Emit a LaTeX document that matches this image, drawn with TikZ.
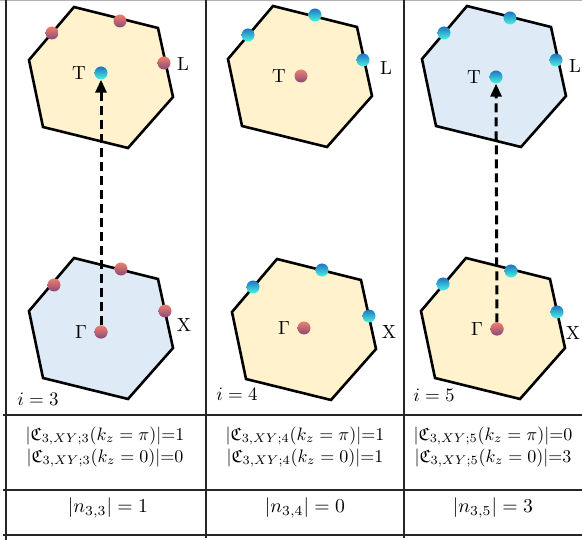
\documentclass[tikz,border=0pt]{standalone}
\usepackage{amsmath,amssymb}
\usetikzlibrary{arrows.meta}
\usetikzlibrary{positioning}

\definecolor{zoneA}{HTML}{FFF2CC}
\definecolor{zoneB}{HTML}{DEEBF7}
\definecolor{ballred}{HTML}{F07E6E}
\definecolor{ballplum}{HTML}{8A4A78}
\definecolor{ballblue}{HTML}{1F74C4}
\definecolor{ballcyan}{HTML}{48F4E2}

\begin{document}
\begin{tikzpicture}[x=1pt, y=-1pt,
    hexa/.style={line width=2.6pt, line join=miter},
    rball/.style={circle, minimum size=13pt, inner sep=0pt, top color=ballred, bottom color=ballplum},
    cball/.style={circle, minimum size=13pt, inner sep=0pt, top color=ballblue, bottom color=ballcyan},
    lbl/.style={inner sep=0pt, scale=1.9},
    cell/.style={align=center, inner sep=0pt, scale=1.8, font=\fontsize{10}{12.2}\selectfont},
    count/.style={inner sep=0pt, scale=1.97},
    jump/.style={line width=3pt, dash pattern=on 9pt off 5pt, -{Triangle[length=13pt,width=11pt]}},
    grid/.style={line width=1.2pt, draw=black!85}]
    \useasboundingbox (0,0) rectangle (582,540);

    % table
    \draw[black!30, line width=1pt] (0,0.5) -- (582,0.5);
    \draw[grid] (6,0) -- (6,540);
    \draw[grid] (206,0) -- (206,538);
    \draw[grid] (404,0) -- (404,538);
    \foreach \yy in {415,490,535}
        \draw[grid] (3,\yy) -- (582,\yy);

    % Brillouin zones
    \foreach \dx/\dy/\col in {0/0/zoneA, 199/-1/zoneA, 393/-1/zoneB,
                              0/251/zoneB, 203/252/zoneA, 392/251/zoneA}
        \draw[hexa, fill=\col, shift={(\dx,\dy)}]
            (74,7) -- (158,28) -- (173,97) -- (128,148) -- (43,127) -- (29,60) -- cycle;

    % centre points
    \node[cball] (T1) at (101,73) {};
    \node[rball] (G1) at (101,332) {};
    \node[rball] (T2) at (301,76) {};
    \node[rball] (G2) at (304,328) {};
    \node[cball] (T3) at (496,77) {};
    \node[rball] (G3) at (497,329) {};

    \draw[jump] (G1) -- (T1);
    \draw[jump] (G3) -- (T3);
    \node[rball] at (G1) {};
    \node[rball] at (G3) {};

    % edge points
    \node[rball] (a1) at (52,33) {};
    \node[rball] (a2) at (120,21) {};
    \node[rball] (a3) at (164,63) {};
    \node[rball] (b1) at (54,285) {};
    \node[rball] (b2) at (121,269) {};
    \node[rball] (b3) at (165,311) {};
    \node[cball] (c1) at (248,35) {};
    \node[cball] (c2) at (315,15) {};
    \node[cball] (c3) at (363,60) {};
    \node[cball] (d1) at (253,287) {};
    \node[cball] (d2) at (322,270) {};
    \node[cball] (d3) at (369,316) {};
    \node[cball] (e1) at (444,33) {};
    \node[cball] (e2) at (510,18) {};
    \node[cball] (e3) at (556,60) {};
    \node[cball] (f1) at (443,284) {};
    \node[cball] (f2) at (511,271) {};
    \node[cball] (f3) at (557,312) {};

    % labels
    \node[lbl, left=8pt of T1] {T};
    \node[lbl, left=8pt of T2] {T};
    \node[lbl, left=8pt of T3] {T};
    \node[lbl, left=7pt of G1] {$\Gamma$};
    \node[lbl, left=7pt of G2] {$\Gamma$};
    \node[lbl, left=7pt of G3] {$\Gamma$};
    \node[lbl] (L1) at (183,64) {L};
    \node[lbl] (L2) at (386,68) {L};
    \node[lbl] (L3) at (575,66) {L};
    \node[lbl] (X1) at (184,325) {X};
    \node[lbl] (X2) at (389,332) {X};
    \node[lbl] (X3) at (573,333) {X};
    \node[lbl, anchor=base west] (i3) at (17,406) {$i=3$};
    \node[lbl, anchor=base west] (i4) at (216,401) {$i=4$};
    \node[lbl, anchor=base west] (i5) at (413,402) {$i=5$};

    % counts
    \node[cell] (r3) at (105,447) {$|\mathfrak{C}_{3,XY;3}(k_z=\pi)|{=}1$\\ $|\mathfrak{C}_{3,XY;3}(k_z=0)|{=}0$};
    \node[cell] (r4) at (305,447) {$|\mathfrak{C}_{3,XY;4}(k_z=\pi)|{=}1$\\ $|\mathfrak{C}_{3,XY;4}(k_z=0)|{=}1$};
    \node[cell] (r5) at (493,447) {$|\mathfrak{C}_{3,XY;5}(k_z=\pi)|{=}0$\\ $|\mathfrak{C}_{3,XY;5}(k_z=0)|{=}3$};
    \node[count] (n3) at (108,508) {$|n_{3,3}|=1$};
    \node[count] (n4) at (305,508) {$|n_{3,4}|=0$};
    \node[count] (n5) at (493,508) {$|n_{3,5}|=3$};
\end{tikzpicture}
\end{document}
